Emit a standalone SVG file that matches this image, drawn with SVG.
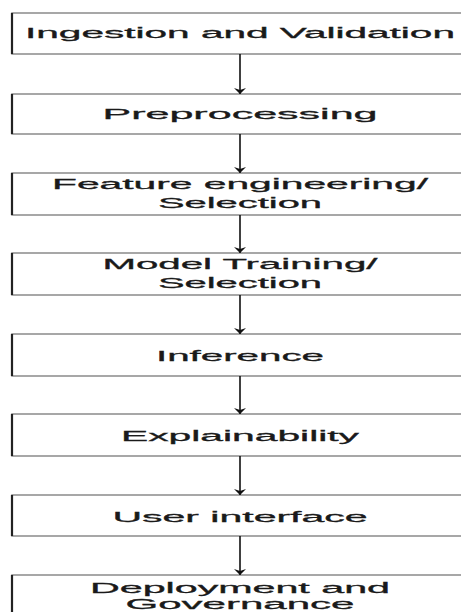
<svg xmlns="http://www.w3.org/2000/svg" width="461" height="612" viewBox="0 0 461 612">
<style>
.box{fill:#ffffff;stroke:#8a8a8a;stroke-width:1.5}
.edge{stroke:#222;stroke-width:2.2}
.t{font-family:"Liberation Sans",Arial,sans-serif;font-size:15.5px;fill:#1a1a1a;stroke:#1a1a1a;stroke-width:0.3;text-anchor:middle}
.c{stroke:#111;stroke-width:1.6;fill:none}
</style>
<defs>
<marker id="ah" viewBox="0 0 6 12" refX="6" refY="6" markerWidth="6" markerHeight="12" markerUnits="userSpaceOnUse" orient="auto">
<path d="M0,0 L6,6 L0,12 L2,6 Z" fill="#111"/>
</marker>
</defs>
<rect width="461" height="612" fill="#ffffff"/>
<g id="n1"><rect class="box" x="12" y="13" width="460" height="41"/><line class="edge" x1="12" y1="13" x2="12" y2="54"/>
<text class="t" x="240" y="38" textLength="430" lengthAdjust="spacingAndGlyphs">Ingestion and Validation</text></g>
<g id="n2"><rect class="box" x="12" y="94" width="460" height="40"/><line class="edge" x1="12" y1="94" x2="12" y2="134"/>
<text class="t" x="240" y="119" textLength="275" lengthAdjust="spacingAndGlyphs">Preprocessing</text></g>
<g id="n3"><rect class="box" x="12" y="173" width="460" height="42"/><line class="edge" x1="12" y1="173" x2="12" y2="215"/>
<text class="t" x="240" y="189" textLength="376" lengthAdjust="spacingAndGlyphs">Feature engineering/</text>
<text class="t" x="240" y="208" textLength="164" lengthAdjust="spacingAndGlyphs">Selection</text></g>
<g id="n4"><rect class="box" x="12" y="253" width="460" height="42"/><line class="edge" x1="12" y1="253" x2="12" y2="295"/>
<text class="t" x="240" y="269" textLength="275" lengthAdjust="spacingAndGlyphs">Model Training/</text>
<text class="t" x="240" y="288" textLength="164" lengthAdjust="spacingAndGlyphs">Selection</text></g>
<g id="n5"><rect class="box" x="12" y="334" width="460" height="42"/><line class="edge" x1="12" y1="334" x2="12" y2="376"/>
<text class="t" x="240" y="361" textLength="168" lengthAdjust="spacingAndGlyphs">Inference</text></g>
<g id="n6"><rect class="box" x="12" y="414" width="460" height="42"/><line class="edge" x1="12" y1="414" x2="12" y2="456"/>
<text class="t" x="240" y="441" textLength="238" lengthAdjust="spacingAndGlyphs">Explainability</text></g>
<g id="n7"><rect class="box" x="12" y="495" width="460" height="41"/><line class="edge" x1="12" y1="495" x2="12" y2="536"/>
<text class="t" x="240" y="522" textLength="255" lengthAdjust="spacingAndGlyphs">User interface</text></g>
<g id="n8"><rect class="box" x="12" y="575" width="460" height="50"/><line class="edge" x1="12" y1="575" x2="12" y2="625"/>
<text class="t" x="240" y="593" textLength="300" lengthAdjust="spacingAndGlyphs">Deployment and</text>
<text class="t" x="240" y="609" textLength="229" lengthAdjust="spacingAndGlyphs">Governance</text></g>
<g id="connectors">
<line class="c" x1="240" y1="54" x2="240" y2="94" marker-end="url(#ah)"/>
<line class="c" x1="240" y1="134" x2="240" y2="173" marker-end="url(#ah)"/>
<line class="c" x1="240" y1="215" x2="240" y2="253" marker-end="url(#ah)"/>
<line class="c" x1="240" y1="295" x2="240" y2="334" marker-end="url(#ah)"/>
<line class="c" x1="240" y1="376" x2="240" y2="414" marker-end="url(#ah)"/>
<line class="c" x1="240" y1="456" x2="240" y2="495" marker-end="url(#ah)"/>
<line class="c" x1="240" y1="536" x2="240" y2="575" marker-end="url(#ah)"/>
</g>
</svg>
